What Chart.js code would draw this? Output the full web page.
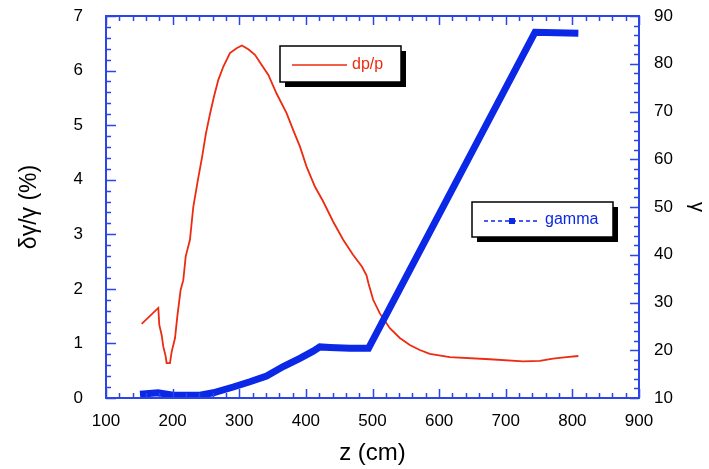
<!DOCTYPE html>
<html>
<head>
<meta charset="utf-8">
<script src="https://cdn.jsdelivr.net/npm/chart.js@4"></script>
<style>
  html, body { margin: 0; padding: 0; background: #fff; }
  #wrap { width: 709px; height: 469px; }
</style>
</head>
<body>
<div id="wrap"><canvas id="myChart" width="709" height="469"></canvas></div>
<script>
// dp/p (left axis, %)
let dpZ = [153.6, 178.5, 180, 183.6, 186, 189.6, 191, 196, 198.6, 203.6, 207, 212, 216, 219.6, 222, 226, 231, 238, 244, 250, 256, 262, 268.6, 276, 286, 296, 304, 313.6, 323.6, 333.7, 343.7, 356, 371, 381, 391, 401, 413.7, 426, 441, 456, 471, 484, 491, 494, 501, 511, 526, 541, 556, 571, 586, 616, 676, 726, 751, 771, 791, 809];
let dpVal = [1.36, 1.65, 1.34, 1.15, 0.94, 0.76, 0.64, 0.64, 0.85, 1.10, 1.49, 1.98, 2.16, 2.59, 2.71, 2.90, 3.50, 4.00, 4.40, 4.85, 5.20, 5.52, 5.83, 6.07, 6.32, 6.41, 6.46, 6.39, 6.29, 6.10, 5.92, 5.58, 5.22, 4.91, 4.61, 4.24, 3.87, 3.60, 3.23, 2.90, 2.62, 2.41, 2.25, 2.10, 1.80, 1.55, 1.28, 1.10, 0.97, 0.88, 0.81, 0.75, 0.71, 0.67, 0.68, 0.72, 0.75, 0.77];

// gamma (right axis)
let gZ = [151, 178, 201, 241, 261, 291, 316, 341, 366, 391, 411, 421, 436, 466, 494, 744, 809];
let gVal = [10.8, 11.1, 10.6, 10.6, 11.1, 12.3, 13.4, 14.6, 16.6, 18.3, 19.8, 20.7, 20.6, 20.4, 20.4, 86.6, 86.4];

let xTicks = [100, 200, 300, 400, 500, 600, 700, 800, 900];
let yTicks = [0, 1, 2, 3, 4, 5, 6, 7];
let y2Ticks = [10, 20, 30, 40, 50, 60, 70, 80, 90];

const RED = '#ee2a10';
const BLUE = '#0a28e6';
const AXIS = '#2b45e6';
const FONT = '"Liberation Sans", Arial, Helvetica, sans-serif';

function toPoints(xs, ys){
    let pts = [];
    for(let i=0;i<xs.length;i++){
        pts.push({x: xs[i], y: ys[i]});
    }
    return pts;
}

// inward ticks on all four sides + blue frame
const frameTicks = {
    id: 'frameTicks',
    afterDraw(chart){
        const ctx = chart.ctx;
        const a = chart.chartArea;
        const sx = chart.scales.x, sy = chart.scales.y, sy2 = chart.scales.y2;
        ctx.save();
        ctx.strokeStyle = AXIS;
        ctx.lineWidth = 1.5;
        ctx.beginPath();
        for(let v=100; v<=900; v+=20){
            let px = Math.round(sx.getPixelForValue(v)) + 0.5;
            let len = (v % 100 === 0) ? 9 : 5;
            ctx.moveTo(px, a.bottom); ctx.lineTo(px, a.bottom - len);
            ctx.moveTo(px, a.top); ctx.lineTo(px, a.top + len);
        }
        for(let v=0; v<=7.001; v+=0.2){
            let py = Math.round(sy.getPixelForValue(v)) + 0.5;
            let len = (Math.abs(v - Math.round(v)) < 0.01) ? 10 : 5;
            ctx.moveTo(a.left, py); ctx.lineTo(a.left + len, py);
        }
        for(let v=10; v<=90; v+=2){
            let py = Math.round(sy2.getPixelForValue(v)) + 0.5;
            let len = (v % 10 === 0) ? 9 : 5;
            ctx.moveTo(a.right, py); ctx.lineTo(a.right - len, py);
        }
        ctx.stroke();
        ctx.lineWidth = 2;
        ctx.strokeRect(a.left, a.top, a.right - a.left, a.bottom - a.top);
        ctx.restore();
    }
};

function drawBox(ctx, x, y, w, h){
    ctx.fillStyle = '#000';
    ctx.fillRect(x + 5, y + 5, w, h);
    ctx.fillStyle = '#fff';
    ctx.fillRect(x, y, w, h);
    ctx.strokeStyle = '#000';
    ctx.lineWidth = 1.5;
    ctx.strokeRect(x, y, w, h);
}

const boxLegends = {
    id: 'boxLegends',
    afterDraw(chart){
        const ctx = chart.ctx;
        ctx.save();
        // dp/p
        drawBox(ctx, 280, 46, 121, 36);
        ctx.strokeStyle = RED;
        ctx.lineWidth = 1.5;
        ctx.beginPath();
        ctx.moveTo(292, 65); ctx.lineTo(347, 65);
        ctx.stroke();
        ctx.fillStyle = RED;
        ctx.font = '16px ' + FONT;
        ctx.textBaseline = 'middle';
        ctx.fillText('dp/p', 352, 65);
        // gamma
        drawBox(ctx, 472, 202, 141, 35);
        ctx.strokeStyle = BLUE;
        ctx.lineWidth = 1.5;
        ctx.setLineDash([4, 3]);
        ctx.beginPath();
        ctx.moveTo(484, 221); ctx.lineTo(540, 221);
        ctx.stroke();
        ctx.setLineDash([]);
        ctx.fillStyle = BLUE;
        ctx.fillRect(509, 218, 6, 6);
        ctx.fillText('gamma', 545, 220);
        ctx.restore();
    }
};

function fitVertical(w){
    return function(s){
        s.width = w;
        s.paddingTop = 0;
        s.paddingBottom = 0;
    };
}

function Place(){
    const ctx = document.getElementById('myChart');
    new Chart(ctx, {
        type: 'scatter',
        data: {
            datasets: [{
                label: 'gamma',
                data: toPoints(gZ, gVal),
                yAxisID: 'y2',
                showLine: true,
                borderColor: BLUE,
                backgroundColor: BLUE,
                borderWidth: 7,
                pointRadius: 0,
                borderCapStyle: 'butt'
            }, {
                label: 'dp/p',
                data: toPoints(dpZ, dpVal),
                yAxisID: 'y',
                showLine: true,
                borderColor: RED,
                backgroundColor: RED,
                borderWidth: 1.8,
                pointRadius: 0
            }]
        },
        options: {
            responsive: false,
            animation: false,
            layout: { padding: { top: 16, left: 0, right: 0, bottom: 0 } },
            plugins: { legend: { display: false }, tooltip: { enabled: false } },
            scales: {
                x: {
                    type: 'linear', min: 100, max: 900,
                    grid: { display: false, drawTicks: false },
                    border: { display: false },
                    afterBuildTicks(s){ s.ticks = xTicks.map(v => ({value: v})); },
                    afterFit(s){ s.height = 71; },
                    ticks: { color: '#000', padding: 13, maxRotation: 0, font: { family: FONT, size: 17 } },
                    title: { display: true, text: 'z (cm)', color: '#000', padding: { top: 0, bottom: 1 }, font: { family: FONT, size: 24 } }
                },
                y: {
                    type: 'linear', position: 'left', min: 0, max: 7,
                    grid: { display: false, drawTicks: false },
                    border: { display: false },
                    afterBuildTicks(s){ s.ticks = yTicks.map(v => ({value: v})); },
                    afterFit: fitVertical(106),
                    ticks: { color: '#000', padding: 23, font: { family: FONT, size: 17 } },
                    title: { display: true, text: 'δγ/γ (%)', color: '#000', padding: { top: 16, bottom: 0 }, font: { family: FONT, size: 23 } }
                },
                y2: {
                    type: 'linear', position: 'right', min: 10, max: 90,
                    grid: { display: false, drawTicks: false },
                    border: { display: false },
                    afterBuildTicks(s){ s.ticks = y2Ticks.map(v => ({value: v})); },
                    afterFit: fitVertical(70),
                    ticks: { color: '#000', padding: 15, font: { family: FONT, size: 17 } },
                    title: { display: true, text: 'γ', color: '#000', padding: { top: 0, bottom: 0 }, font: { family: FONT, size: 20 } }
                }
            }
        },
        plugins: [frameTicks, boxLegends]
    });
}

Place();
</script>
</body>
</html>
